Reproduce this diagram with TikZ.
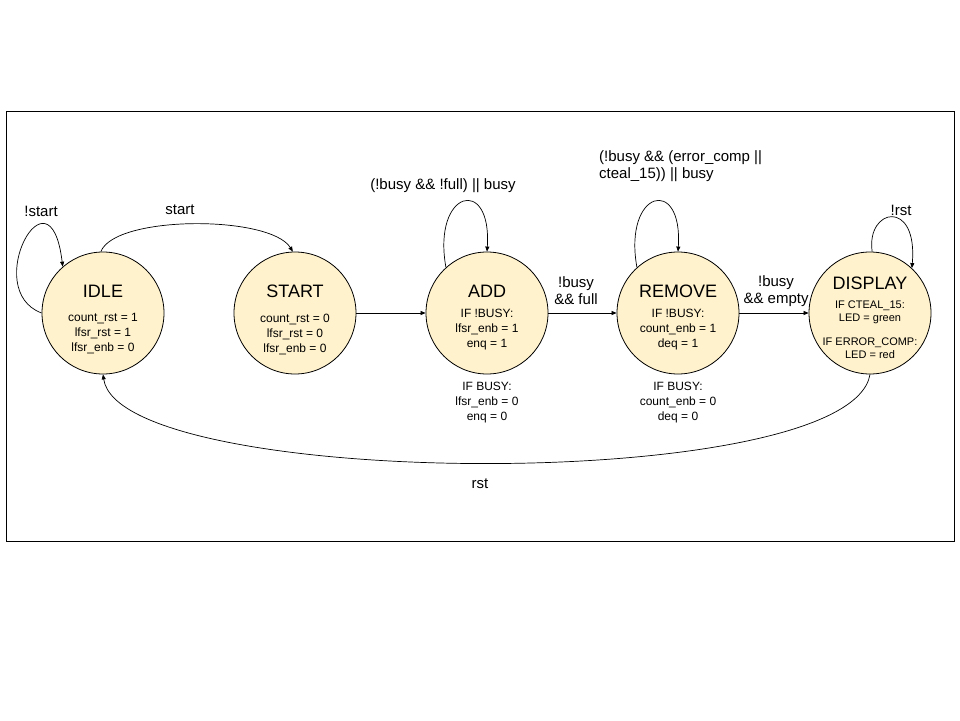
\documentclass[tikz,border=0pt]{standalone}
\usepackage{fontspec}
\setmainfont{Liberation Sans}
\usetikzlibrary{arrows.meta}
\definecolor{statefill}{HTML}{FFF2CC}
\begin{document}
\begin{tikzpicture}[x=1pt,y=-1pt,
  fsmstate/.style={circle, draw, fill=statefill, minimum size=122pt, inner sep=0pt, line width=0.8pt},
  titletext/.style={font=\fontsize{18}{21}\selectfont, inner sep=0pt},
  dettext/.style={font=\fontsize{12}{15}\selectfont, align=center, inner sep=0pt},
  smalltext/.style={font=\fontsize{11}{13}\selectfont, align=center, inner sep=0pt},
  lbl/.style={font=\fontsize{15}{17}\selectfont, align=center, inner sep=0pt},
  arr/.style={-{Triangle[length=5pt,width=4pt]}, line width=0.7pt}]
\useasboundingbox (0,0) rectangle (960,720);
\fill[white] (0,0) rectangle (960,720);
\draw[line width=0.8pt] (6,111) rectangle (954,541);

% states
\node[fsmstate] (idle) at (103,313) {};
\node[titletext] (idlet) at (103,291) {IDLE};
\node[dettext] (idled) at (103,334) {count\_rst = 1\\lfsr\_rst = 1\\lfsr\_enb = 0};

\node[fsmstate] (start) at (295,313) {};
\node[titletext] (startt) at (295,291) {START};
\node[dettext] (startd) at (295,334) {count\_rst = 0\\lfsr\_rst = 0\\lfsr\_enb = 0};

\node[fsmstate] (add) at (487,313) {};
\node[titletext] (addt) at (487,291) {ADD};
\node[dettext] (addd) at (487,330) {IF !BUSY:\\lfsr\_enb = 1\\enq = 1};
\node[dettext] (addb) at (487,403) {IF BUSY:\\lfsr\_enb = 0\\enq = 0};

\node[fsmstate] (remove) at (678,313) {};
\node[titletext] (removet) at (678,291) {REMOVE};
\node[dettext] (removed) at (678,330) {IF !BUSY:\\count\_enb = 1\\deq = 1};
\node[dettext] (removeb) at (678,403) {IF BUSY:\\count\_enb = 0\\deq = 0};

\node[fsmstate] (display) at (870,313) {};
\node[titletext] (displayt) at (870,283) {DISPLAY};
\node[smalltext] (displayd) at (870,330) {IF CTEAL\_15:\\LED = green\\[11pt]IF ERROR\_COMP:\\LED = red};

% connectors
\draw[arr] (idle.180) .. controls (-20,290) and (50,160) .. (idle.131);
\draw[arr] (idle.92) .. controls (115,215) and (270,215) .. (start.92);
\draw[arr] (start.east) -- (add.west);
\draw[arr] (add.132) .. controls (432,190) and (492,175) .. (add.north);
\draw[arr] (add.east) -- (remove.west);
\draw[arr] (remove.132) .. controls (623,190) and (683,175) .. (remove.north);
\draw[arr] (remove.east) -- (display.west);
\draw[arr] (display.88) .. controls (866,208) and (918,198) .. (display.47);
\draw[arr] (display.south) .. controls (850,495) and (120,490) .. (idle.south);

% labels
\node[lbl] (l1) at (41,211) {!start};
\node[lbl] (l2) at (180,210) {start};
\node[lbl] (l3) at (443,186) {(!busy \&\& !full) || busy};
\node[lbl] (l4) at (576,291) {!busy\\\&\& full};
\node[lbl, align=left, anchor=west] (l5) at (599,166) {(!busy \&\& (error\_comp ||\\cteal\_15)) || busy};
\node[lbl] (l6) at (776,291) {!busy\\\&\& empty};
\node[lbl] (l7) at (901,210) {!rst};
\node[lbl] (l8) at (480,484) {rst};
\end{tikzpicture}
\end{document}
